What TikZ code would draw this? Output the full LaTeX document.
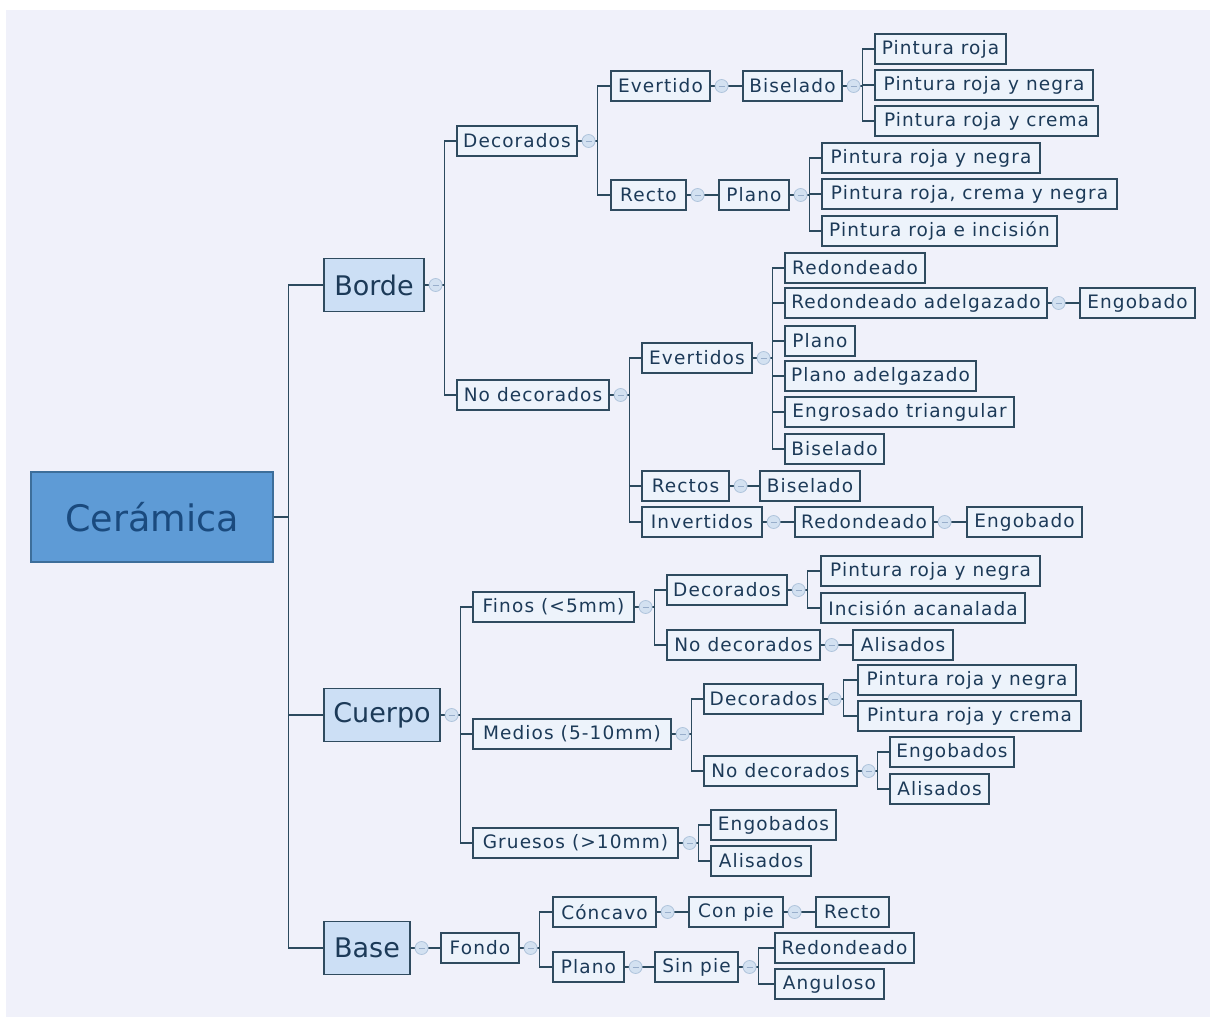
\documentclass[tikz,border=0pt]{standalone}
\usepackage{fontspec}
\setmainfont{DejaVu Sans}
\newfontfamily\leaffont[LetterSpace=6]{DejaVu Sans}
\definecolor{bgc}{HTML}{F0F1FA}
\definecolor{linec}{HTML}{2C4A5E}
\definecolor{bordc}{HTML}{2F4B5F}
\definecolor{leaffill}{HTML}{EDF3FB}
\definecolor{txtc}{HTML}{1C3A58}
\definecolor{rootfill}{HTML}{5E9BD6}
\definecolor{rootbord}{HTML}{3D6E9A}
\definecolor{roottxt}{HTML}{1A4A7E}
\definecolor{l1fill}{HTML}{CCDFF5}
\definecolor{colfill}{HTML}{D3E1F1}
\definecolor{colbord}{HTML}{AFC4DC}
\definecolor{colminus}{HTML}{98AECB}
\tikzset{
  leaf/.style={draw=bordc, fill=leaffill, line width=1.2pt, minimum height=30pt, inner sep=0pt, text=txtc, font=\leaffont\fontsize{18.5}{20}\selectfont},
  lone/.style={draw=bordc, fill=l1fill, line width=1.2pt, minimum height=53pt, inner sep=0pt, text=txtc, font=\fontsize{27}{30}\selectfont},
  rootbox/.style={draw=rootbord, fill=rootfill, line width=1.2pt, minimum height=90pt, inner sep=0pt, text=roottxt, font=\fontsize{36.5}{40}\selectfont},
  conn/.style={draw=linec, line width=1.5pt},
  colc/.style={circle, draw=colbord, fill=colfill, line width=0.8pt, minimum size=13pt, inner sep=0pt,
    path picture={\draw[colminus, line width=1pt] ([xshift=-3pt]path picture bounding box.center) -- ([xshift=3pt]path picture bounding box.center);}}
}
\newcommand\bx[5]{\node[leaf, minimum width={(#3-#2)*1pt}] (#1) at ({(#2+#3)/2},#4) {#5};}
\newcommand\collapsebtn[1]{\node[colc] (c#1) at ([xshift=11pt]#1.east) {};}
\newcommand\fork[2]{\draw[conn] (#1.east) -- ++(20,0) |- (#2.west);}
\newcommand\chain[2]{\draw[conn] (#1.east) -- (#2.west);}
\begin{document}
\begin{tikzpicture}[x=1pt,y=-1pt]
\useasboundingbox (0,0) rectangle (1210,1017);
\fill[white] (-5,-5) rectangle (1215,1022);
\fill[bgc] (6,10) rectangle (1215,1022);
% nodes
\node[rootbox, minimum width=242pt] (root) at (152,517) {Cerámica};
\node[lone, minimum width=100pt] (borde) at (374,285) {Borde};
\node[lone, minimum width=116pt] (cuerpo) at (382,715) {Cuerpo};
\node[lone, minimum width=86pt] (base) at (367,948) {Base};
% Borde
\bx{bdec}{457}{577}{141}{Decorados}
\bx{bnodec}{457}{609}{395}{No decorados}
\bx{bev}{611}{710}{86}{Evertido}
\bx{brec}{611}{686}{195}{Recto}
\bx{bbis}{743}{842}{86}{Biselado}
\bx{pa}{875}{1006}{49}{Pintura roja}
\bx{pb}{875}{1093}{85}{Pintura roja y negra}
\bx{pc}{875}{1098}{121}{Pintura roja y crema}
\bx{bpla}{719}{789}{195}{Plano}
\bx{qa}{822}{1040}{158}{Pintura roja y negra}
\bx{qb}{822}{1117}{194}{Pintura roja, crema y negra}
\bx{qc}{822}{1057}{231}{Pintura roja e incisión}
\bx{evs}{642}{752}{358}{Evertidos}
\bx{rcs}{642}{729}{486}{Rectos}
\bx{invs}{642}{762}{522}{Invertidos}
\bx{ea}{785}{925}{268}{Redondeado}
\bx{eb}{785}{1047}{303}{Redondeado adelgazado}
\bx{ec}{785}{855}{341}{Plano}
\bx{ed}{785}{976}{376}{Plano adelgazado}
\bx{ee}{785}{1014}{412}{Engrosado triangular}
\bx{ef}{785}{884}{449}{Biselado}
\bx{eba}{1080}{1195}{303}{Engobado}
\bx{rb}{760}{860}{486}{Biselado}
\bx{ir}{795}{933}{522}{Redondeado}
\bx{ie}{967}{1082}{522}{Engobado}
% Cuerpo
\bx{finos}{473}{634}{607}{Finos (<5mm)}
\bx{medios}{473}{671}{734}{Medios (5-10mm)}
\bx{gruesos}{473}{678}{843}{Gruesos (>10mm)}
\bx{fdec}{667}{787}{590}{Decorados}
\bx{fnodec}{667}{820}{645}{No decorados}
\bx{fa}{821}{1040}{571}{Pintura roja y negra}
\bx{fb}{821}{1025}{608}{Incisión acanalada}
\bx{fal}{853}{953}{645}{Alisados}
\bx{mdec}{704}{823}{699}{Decorados}
\bx{mnodec}{704}{857}{771}{No decorados}
\bx{ma}{858}{1076}{680}{Pintura roja y negra}
\bx{mb}{858}{1081}{716}{Pintura roja y crema}
\bx{mc}{890}{1014}{752}{Engobados}
\bx{md}{890}{989}{789}{Alisados}
\bx{ga}{711}{836}{825}{Engobados}
\bx{gb}{711}{811}{861}{Alisados}
% Base
\bx{fondo}{441}{519}{948}{Fondo}
\bx{conc}{553}{656}{912}{Cóncavo}
\bx{plano}{553}{624}{967}{Plano}
\bx{conpie}{689}{783}{912}{Con pie}
\bx{recto}{816}{889}{912}{Recto}
\bx{sinpie}{655}{738}{967}{Sin pie}
\bx{ra}{775}{914}{948}{Redondeado}
\bx{rbb}{775}{884}{984}{Anguloso}
% connectors
\draw[conn] (root.east) -- ++(15,0) |- (borde.west);
\draw[conn] (root.east) -- ++(15,0) |- (cuerpo.west);
\draw[conn] (root.east) -- ++(15,0) |- (base.west);
\fork{borde}{bdec} \fork{borde}{bnodec}
\fork{bdec}{bev} \fork{bdec}{brec}
\chain{bev}{bbis}
\fork{bbis}{pa} \fork{bbis}{pb} \fork{bbis}{pc}
\chain{brec}{bpla}
\fork{bpla}{qa} \fork{bpla}{qb} \fork{bpla}{qc}
\fork{bnodec}{evs} \fork{bnodec}{rcs} \fork{bnodec}{invs}
\fork{evs}{ea} \fork{evs}{eb} \fork{evs}{ec} \fork{evs}{ed} \fork{evs}{ee} \fork{evs}{ef}
\chain{eb}{eba}
\chain{rcs}{rb}
\chain{invs}{ir} \chain{ir}{ie}
\fork{cuerpo}{finos} \fork{cuerpo}{medios} \fork{cuerpo}{gruesos}
\fork{finos}{fdec} \fork{finos}{fnodec}
\fork{fdec}{fa} \fork{fdec}{fb}
\chain{fnodec}{fal}
\fork{medios}{mdec} \fork{medios}{mnodec}
\fork{mdec}{ma} \fork{mdec}{mb}
\fork{mnodec}{mc} \fork{mnodec}{md}
\fork{gruesos}{ga} \fork{gruesos}{gb}
\chain{base}{fondo}
\fork{fondo}{conc} \fork{fondo}{plano}
\chain{conc}{conpie} \chain{conpie}{recto}
\chain{plano}{sinpie}
\fork{sinpie}{ra} \fork{sinpie}{rbb}
% collapse circles
\collapsebtn{borde} \collapsebtn{cuerpo} \collapsebtn{base}
\collapsebtn{bdec} \collapsebtn{bnodec} \collapsebtn{bev} \collapsebtn{brec} \collapsebtn{bbis} \collapsebtn{bpla}
\collapsebtn{evs} \collapsebtn{rcs} \collapsebtn{invs} \collapsebtn{eb} \collapsebtn{ir}
\collapsebtn{finos} \collapsebtn{medios} \collapsebtn{gruesos} \collapsebtn{fdec} \collapsebtn{fnodec} \collapsebtn{mdec} \collapsebtn{mnodec}
\collapsebtn{fondo} \collapsebtn{conc} \collapsebtn{conpie} \collapsebtn{plano} \collapsebtn{sinpie}
\end{tikzpicture}
\end{document}
